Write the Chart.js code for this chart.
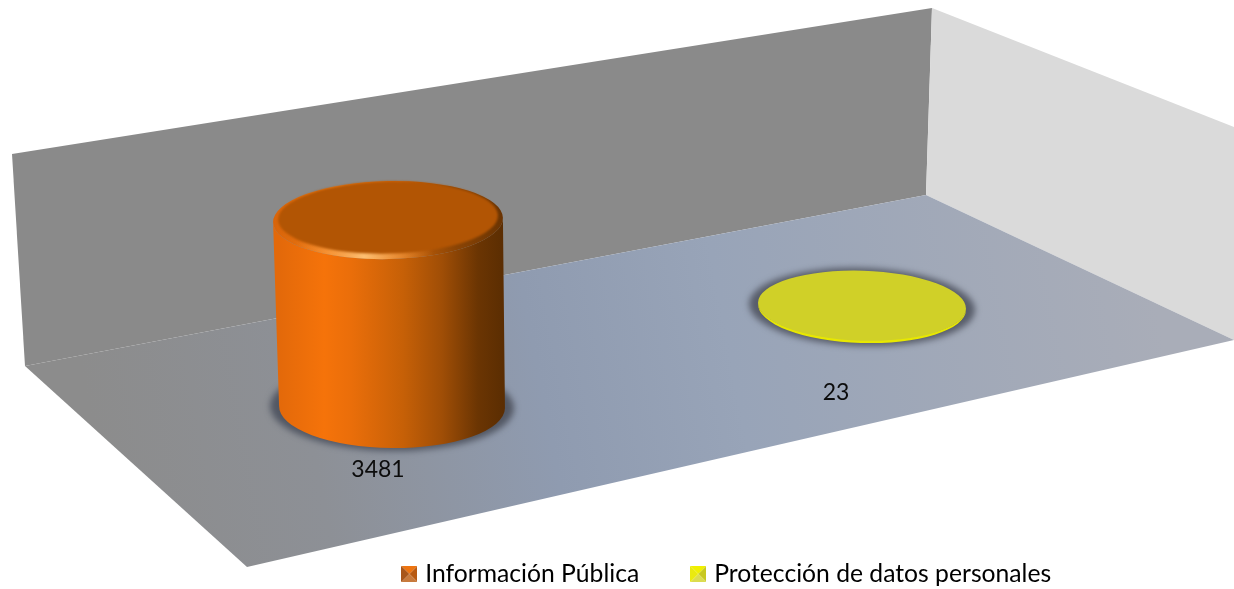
<!DOCTYPE html>
<html><head><meta charset="utf-8">
<style>html,body{margin:0;padding:0;background:#fff}canvas{display:block}</style>
<script src="https://cdn.jsdelivr.net/npm/chart.js@4/dist/chart.umd.js"></script>
</head><body><canvas id="c" width="1234" height="589"></canvas>
<script>
const categories = ['Información Pública', 'Protección de datos personales'];
const values = [3481, 23];
const seriesColors = ['#e46c0a', '#d0d028'];

// Drawing styles (not data)
const FONT = 'Lato, "Open Sans", sans-serif';
const TEXT = '#0c0c0c';
const BACK_WALL = [[12,154],[932,8],[926,195],[25,366]];
const SIDE_WALL = [[932,8],[1234,127],[1234,340],[926,195]];
const FLOOR = [[25,366],[926,195],[1234,340],[247,567]];
const FLOOR_SKEW = -0.211;
const CYL = [
  {scale:1, ry:41, tiltBase:0.01, tiltTop:-0.02, dxBase:4,
   stops:[[0,'#e3690a'],[0.2,'#f5730a'],[0.32,'#ea6e0a'],[0.55,'#c66007'],[0.72,'#a04e06'],[0.88,'#6b3503'],[1,'#5a2d02']],
   top:'#b25504', shadow:'#525763', labelDx:-10, labelDy:63},
  {scale:0.905, ry:36, tiltBase:0.03, tiltTop:0.03, dxBase:0,
   stops:[[0,'#e8e800'],[1,'#e8e800']],
   top:'#d0d028', shadow:'#585d6a', labelDx:-26, labelDy:86}
];

function poly(ctx, pts){ ctx.beginPath(); pts.forEach((p,i)=> i?ctx.lineTo(p[0],p[1]):ctx.moveTo(p[0],p[1])); ctx.closePath(); }

const backdrop = {
  id:'backdrop',
  beforeDatasetsDraw(chart){
    const ctx = chart.ctx; ctx.save();
    poly(ctx,BACK_WALL); ctx.fillStyle='#8a8a8a'; ctx.fill();
    poly(ctx,SIDE_WALL); ctx.fillStyle='#dadada'; ctx.fill();
    const g = ctx.createLinearGradient(100,470,1150,270);
    g.addColorStop(0,'#8c8c8c'); g.addColorStop(0.2,'#8d9096'); g.addColorStop(0.42,'#8f9bb0');
    g.addColorStop(0.6,'#98a4b8'); g.addColorStop(1,'#a9adb8');
    poly(ctx,FLOOR); ctx.fillStyle=g; ctx.fill();
    ctx.restore();
  }
};

const cylinders = {
  id:'cylinders',
  beforeDatasetDraw(chart, args){
    const ctx = chart.ctx, meta = args.meta, x0 = meta.data[0].x;
    meta.data.forEach((bar,i)=>{
      const s = CYL[i];
      const h = bar.base - bar.y;
      const skew = FLOOR_SKEW*(bar.x-x0);
      const rx = bar.width/2*s.scale;
      const tx = bar.x, ty = bar.y+skew;
      const bx = bar.x+s.dxBase, by = bar.base+skew;
      const brx = rx - (h>10?2:0);
      ctx.save();
      // contact shadow
      ctx.filter='blur(3px)';
      ctx.fillStyle=s.shadow;
      ctx.beginPath(); ctx.ellipse(bx,by,brx+9,s.ry+3,s.tiltBase,0,Math.PI*2); ctx.fill();
      ctx.filter='none';
      // side
      const g = ctx.createLinearGradient(bx-brx,0,bx+brx,0);
      s.stops.forEach(st=>g.addColorStop(st[0],st[1]));
      ctx.fillStyle=g;
      ctx.beginPath();
      ctx.ellipse(tx,ty,rx,s.ry-2,s.tiltTop,Math.PI,0,true);
      ctx.ellipse(bx,by,brx,s.ry,s.tiltBase,0,Math.PI,false);
      ctx.closePath(); ctx.fill();
      // top
      if(h>10){
        const gr = ctx.createLinearGradient(tx-rx,0,tx+rx,0);
        gr.addColorStop(0,'#d8640a'); gr.addColorStop(0.25,'#ee7a14'); gr.addColorStop(0.55,'#d06508');
        gr.addColorStop(0.8,'#8a4405'); gr.addColorStop(1,'#6a3403');
        ctx.fillStyle=gr;
        ctx.beginPath(); ctx.ellipse(tx,ty,rx,s.ry-2,s.tiltTop,0,Math.PI*2); ctx.fill();
        const hl = ctx.createRadialGradient(tx-24,ty+37,0,tx-24,ty+37,70);
        hl.addColorStop(0,'rgba(255,196,120,.95)'); hl.addColorStop(1,'rgba(255,160,70,0)');
        ctx.fillStyle=hl;
        ctx.beginPath(); ctx.ellipse(tx,ty,rx,s.ry-2,s.tiltTop,0,Math.PI*2); ctx.fill();
        ctx.filter='blur(1px)';
        ctx.fillStyle=s.top;
        ctx.beginPath(); ctx.ellipse(tx,ty-2.5,rx-5,s.ry-5,s.tiltTop,0,Math.PI*2); ctx.fill();
        ctx.filter='none';
      } else {
        ctx.fillStyle=s.top;
        ctx.beginPath(); ctx.ellipse(tx,ty,rx,s.ry-1,s.tiltTop,0,Math.PI*2); ctx.fill();
      }
      // value label
      ctx.fillStyle=TEXT; ctx.font='23px '+FONT; ctx.textAlign='center'; ctx.textBaseline='middle';
      ctx.fillText(String(values[i]), bar.x+s.labelDx, by+s.labelDy);
      ctx.restore();
    });
    return false;
  }
};

const legendShift = {
  id:'legendShift',
  afterLayout(chart){
    const l = chart.legend; l.left+=103.5; l.right+=103.5; l.top=506; l.bottom=589;
  }
};

function icon(shades){
  const n=16, c=document.createElement('canvas'); c.width=n; c.height=n;
  const x=c.getContext('2d'), m=n/2;
  const tri=(a,b,col)=>{x.fillStyle=col;x.beginPath();x.moveTo(a[0],a[1]);x.lineTo(b[0],b[1]);x.lineTo(m,m);x.closePath();x.fill();};
  tri([0,0],[n,0],shades[0]); tri([n,0],[n,n],shades[1]); tri([n,n],[0,n],shades[2]); tri([0,n],[0,0],shades[3]);
  return c;
}
const icons=[icon(['#ee7410','#b85a12','#c87a3c','#a8561a']), icon(['#f0f000','#c8c820','#dcdc50','#eaea10'])];

new Chart(document.getElementById('c'),{
  type:'bar',
  data:{labels:categories,datasets:[{label:'Solicitudes',data:values,backgroundColor:seriesColors,barPercentage:0.485,categoryPercentage:1}]},
  options:{
    responsive:false,animation:false,
    layout:{padding:{left:151,right:135,top:0,bottom:0}},
    scales:{
      x:{display:false},
      y:{display:false,min:-1825,max:7579}
    },
    plugins:{
      tooltip:{enabled:false},
      title:{display:false},
      legend:{
        position:'bottom',
        maxHeight:84,
        labels:{
          usePointStyle:true,pointStyleWidth:7,padding:55.6,color:TEXT,
          font:{family:FONT,size:24.7},
          generateLabels:()=>categories.map((t,i)=>({text:t,fillStyle:seriesColors[i],strokeStyle:seriesColors[i],lineWidth:0,pointStyle:icons[i],index:i,hidden:false}))
        }
      }
    }
  },
  plugins:[backdrop,cylinders,legendShift]
});
</script></body></html>
